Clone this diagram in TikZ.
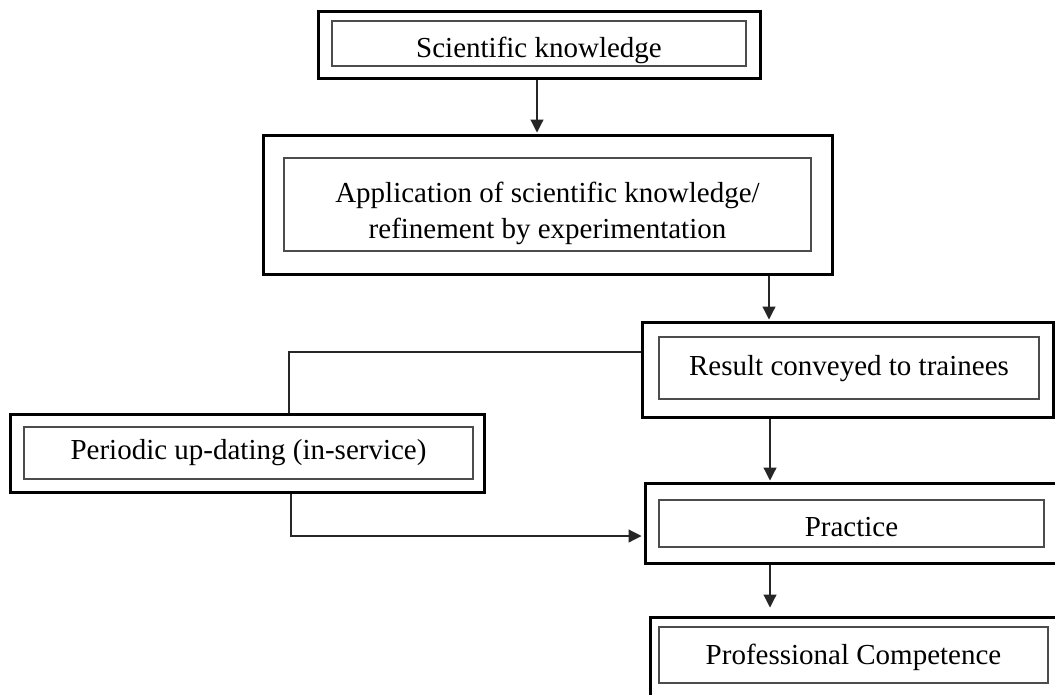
\documentclass[tikz,border=0pt]{standalone}
\usepackage{fontspec}
\setmainfont{Liberation Serif}
\usetikzlibrary{arrows.meta}
\begin{document}
\begin{tikzpicture}[x=1pt,y=-1pt,
  outerbox/.style={draw=black, line width=3pt, minimum width=#1, inner sep=0pt},
  innerbox/.style={draw=black!70, line width=1.3pt, minimum width=#1, inner sep=0pt},
  lbl/.style={anchor=base, inner sep=0pt, font=\fontsize{29}{34}\selectfont},
  conn/.style={draw=black!85, line width=1.2pt},
  arr/.style={conn, -{Triangle[length=13pt,width=13pt]}}
]
\useasboundingbox (0,0) rectangle (1055,694);
\clip (0,0) rectangle (1055,694);
\fill[white] (0,0) rectangle (1055,694);

% Box 1
\node[outerbox=442pt, minimum height=67pt] (o1) at (539,44.5) {};
\node[innerbox=414pt, minimum height=45pt] (i1) at (539,43.5) {};
\node[lbl] (t1) at (539,57) {Scientific knowledge};

% Box 2
\node[outerbox=569pt, minimum height=139pt] (o2) at (547.5,204.5) {};
\node[innerbox=527pt, minimum height=93pt] (i2) at (547.5,204.5) {};
\node[lbl, align=center, anchor=center, font=\fontsize{29}{36}\selectfont] (t2) at (547.5,213)
  {Application of scientific knowledge/\\refinement by experimentation};

% Result box
\node[outerbox=411pt, minimum height=95pt] (o3) at (847.5,369.5) {};
\node[innerbox=380pt, minimum height=62pt] (i3) at (849,368) {};
\node[lbl] (t3) at (849,375) {Result conveyed to trainees};

% Practice box
\node[outerbox=413pt, minimum height=80pt] (o4) at (851.5,523) {};
\node[innerbox=385pt, minimum height=47pt] (i4) at (851.5,523.5) {};
\node[lbl] (t4) at (851.5,536) {Practice};

% Professional competence box
\node[outerbox=407pt, minimum height=81pt] (o5) at (853.5,657.5) {};
\node[innerbox=389pt, minimum height=56pt] (i5) at (853.5,655) {};
\node[lbl] (t5) at (853.5,664) {Professional Competence};

% Periodic box
\node[outerbox=474pt, minimum height=78pt] (o6) at (247,453) {};
\node[innerbox=449pt, minimum height=52pt] (i6) at (248.5,453) {};
\node[lbl] (t6) at (248.5,459) {Periodic up-dating (in-service)};

% guide coordinates
\coordinate (g1) at (537,0);
\coordinate (g2) at (769,0);
\coordinate (g3) at (770,0);
\coordinate (g4) at (289,352);
\coordinate (g5) at (291,536);

% connectors
\draw[arr] (o1.south -| g1) -- ([yshift=1pt]o2.north -| g1);
\draw[arr] (o2.south -| g2) -- ([yshift=1pt]o3.north -| g2);
\draw[arr] (o3.south -| g3) -- ([yshift=1pt]o4.north -| g3);
\draw[arr] (o4.south -| g3) -- ([yshift=8pt]o5.north -| g3);
\draw[conn] (o3.west |- g4) -| (o6.north -| g4);
\draw[arr] (o6.south -| g5) |- ([xshift=-2pt]o4.west |- g5);
\end{tikzpicture}
\end{document}
